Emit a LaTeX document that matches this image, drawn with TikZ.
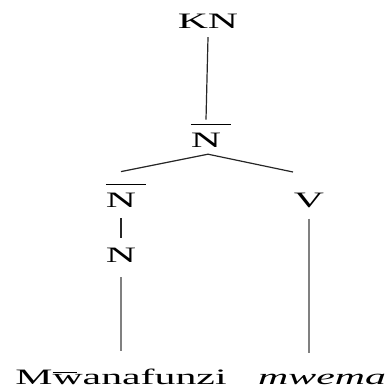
\documentclass[tikz,border=0pt]{standalone}
\usepackage{fontspec}
\setmainfont{Liberation Serif}

\newcommand{\stretchtxt}[1]{\scalebox{1.9}[1]{#1}}
\newcommand{\barN}{\makebox[0pt][l]{\raisebox{22pt}{\rule{21pt}{1.2pt}}}N}

\begin{document}
\begin{tikzpicture}[x=1pt, y=-1pt,
	every node/.style={inner sep=0pt, anchor=base, font=\fontsize{22}{26}\selectfont},
	branch/.style={draw=black!85, line width=1.2pt},
	leaf/.style={draw=black!50, line width=2.8pt}]
	\useasboundingbox (0,0) rectangle (390,385);
	\node (kn)   at (208, 29) {\stretchtxt{KN}};
	\node (nbar) at (206,147) {\stretchtxt{\barN}};
	\node (nbl)  at (121,207) {\stretchtxt{\barN}};
	\node (v)    at (309,207) {\stretchtxt{V}};
	\node (n)    at (121,262) {\stretchtxt{N}};
	\node (mw)   at (121,384) {\stretchtxt{M\makebox[0pt][l]{\raisebox{11pt}{\rule{13pt}{0.9pt}}}wanafunzi}};
	\node[anchor=base west] (mwema) at (258,384) {\stretchtxt{\textit{mwema}}};
	\coordinate (vtop) at (293,172);
%	\node (sp) at (208,80) {};
	\draw[branch] ([yshift=-8pt]kn.south) -- ([yshift=4pt]nbar.north);
	\draw[branch] ([xshift=2pt,yshift=-7pt]nbar.south) -- ([yshift=12pt]nbl.north);
	\draw[branch] ([xshift=2pt,yshift=-7pt]nbar.south) -- (vtop);
	\draw[branch, line width=1.6pt] ([yshift=-11pt]nbl.south) -- ([yshift=9.5pt]n.north);
	\draw[leaf] ([yshift=-15pt]n.south) -- ([yshift=17pt]mw.north);
	\draw[leaf] ([yshift=-11pt]v.south) -- ++(0,134);
\end{tikzpicture}
\end{document}
